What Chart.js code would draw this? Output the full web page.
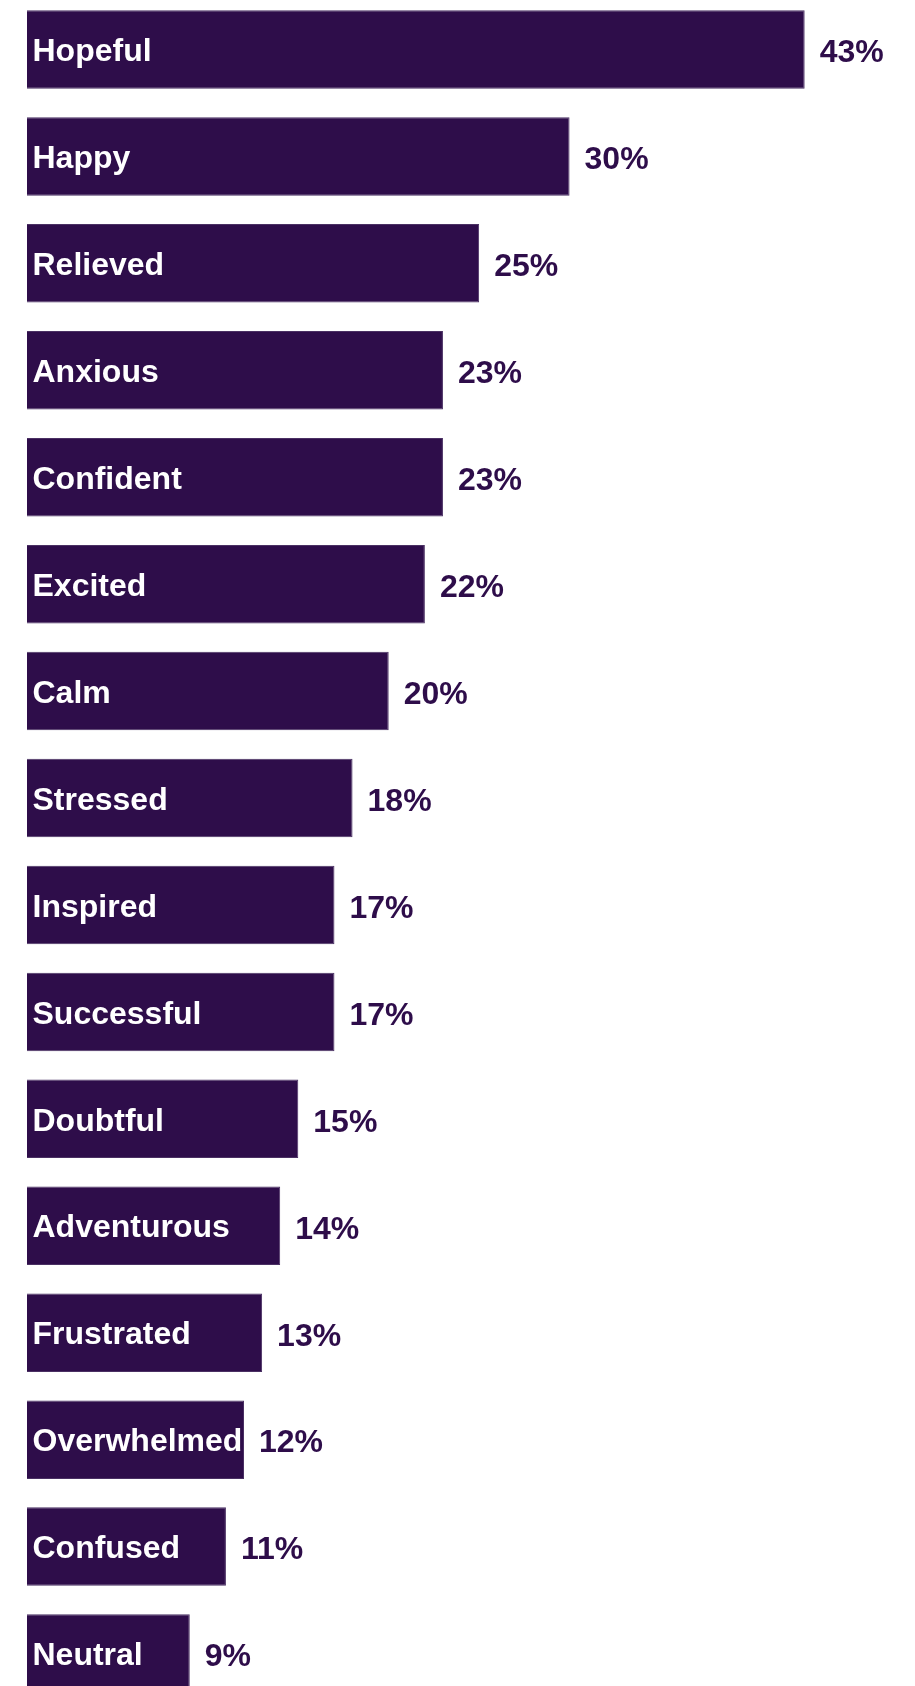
<!DOCTYPE html>
<html>
<head>
<meta charset="utf-8">
<script src="https://cdn.jsdelivr.net/npm/chart.js@4/dist/chart.umd.min.js"></script>
<style>
  html, body { margin: 0; padding: 0; background: #ffffff; overflow: hidden; }
  #frame { position: relative; width: 915px; height: 1686px; overflow: hidden; }
  #chart { position: absolute; left: 0; top: -4px; }
</style>
</head>
<body>
<div id="frame"><canvas id="chart" width="915" height="1711"></canvas></div>
<script>
// Feelings and the share of respondents (%) who reported each one
const feelings = ['Hopeful', 'Happy', 'Relieved', 'Anxious', 'Confident', 'Excited', 'Calm', 'Stressed',
  'Inspired', 'Successful', 'Doubtful', 'Adventurous', 'Frustrated', 'Overwhelmed', 'Confused', 'Neutral'];
const shares = [43, 30, 25, 23, 23, 22, 20, 18, 17, 17, 15, 14, 13, 12, 11, 9];

const barColor = '#2e0d4a';
const fontFamily = '"Liberation Sans", Arial, Helvetica, sans-serif';

// Category name inside each bar, value with % after each bar
const barLabels = {
  id: 'barLabels',
  afterDatasetsDraw(chart) {
    const ctx = chart.ctx;
    const meta = chart.getDatasetMeta(0);
    ctx.save();
    ctx.font = 'bold 32px ' + fontFamily;
    ctx.textBaseline = 'alphabetic';
    ctx.textAlign = 'left';
    meta.data.forEach((bar, i) => {
      ctx.fillStyle = '#ffffff';
      ctx.fillText(feelings[i], bar.base + 5.5, bar.y + 11.7);
      ctx.fillStyle = barColor;
      ctx.fillText(shares[i] + '%', bar.x + 15, bar.y + 12.8);
    });
    ctx.restore();
  }
};

new Chart(document.getElementById('chart'), {
  type: 'bar',
  data: {
    labels: feelings,
    datasets: [{
      data: shares,
      backgroundColor: barColor,
      borderColor: '#4a3063',
      borderWidth: 1,
      categoryPercentage: 1,
      barPercentage: 0.734
    }]
  },
  options: {
    indexAxis: 'y',
    responsive: false,
    animation: false,
    devicePixelRatio: 1,
    layout: { padding: { left: 27, right: 0, top: 0, bottom: 0 } },
    scales: {
      x: { display: false, min: 0, max: 49.1 },
      y: { display: false }
    },
    plugins: {
      legend: { display: false },
      tooltip: { enabled: false }
    }
  },
  plugins: [barLabels]
});
</script>
</body>
</html>
